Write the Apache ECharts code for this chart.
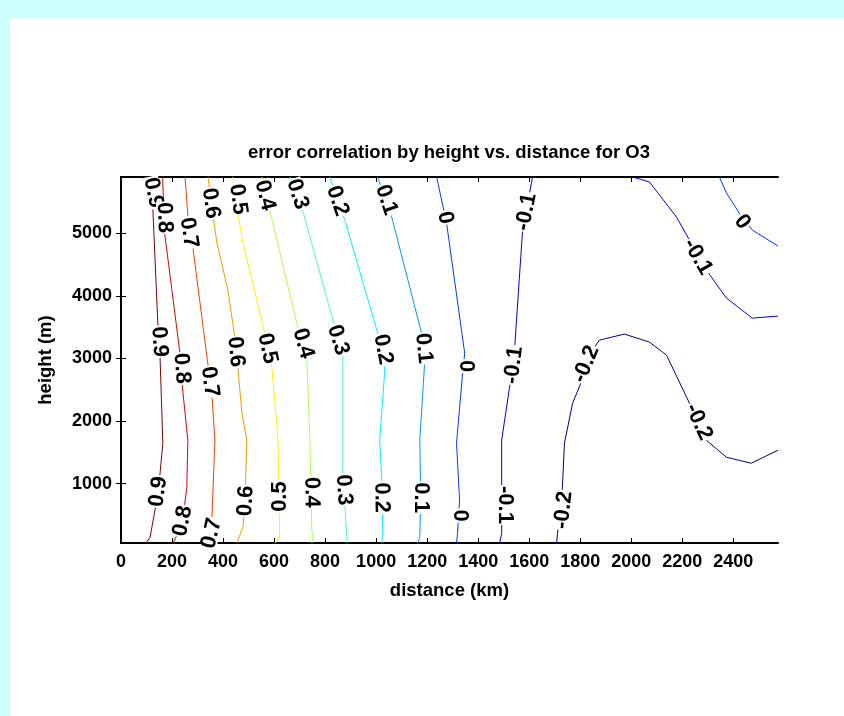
<!DOCTYPE html>
<html><head><meta charset="utf-8">
<script src="https://cdn.jsdelivr.net/npm/echarts@6/dist/echarts.min.js"></script>
<style>html,body{margin:0;padding:0;background:#fff}#c{width:844px;height:716px}</style>
</head><body><div id="c"></div>
<script>
// ---- data (distance km, height m) ----
const xTicks = [0, 200, 400, 600, 800, 1000, 1200, 1400, 1600, 1800, 2000, 2200, 2400];
const yTicks = [1000, 2000, 3000, 4000, 5000];
const xRange = [0, 2575];
const yRange = [50, 5900];

const c09 = [[82,5900],[113,5645],[125,5373],[145,3500],[153,3020],[164,1645],[153,1165],[145,845],[133,573],[114,141],[98,50]];
const c08 = [[163,5900],[172,4970],[231,3085],[239,2605],[262,1693],[258,941],[243,461],[223,205],[204,50]];
const c07 = [[251,5900],[262,5293],[282,4765],[337,3021],[356,2445],[368,1693],[356,413],[337,50]];
const c06 = [[341,5900],[360,5293],[376,4845],[419,4093],[446,3341],[458,2845],[474,2125],[493,1693],[486,733],[478,301],[454,50]];
const c05 = [[438,5900],[466,5133],[478,4845],[556,3533],[591,2861],[615,1741],[622,141],[603,50]];
const c04 = [[552,5900],[583,5373],[689,3565],[728,3021],[740,1741],[748,253],[752,141],[748,50]];
const c03 = [[662,5900],[709,5405],[838,3501],[869,3085],[869,1165],[885,141],[885,50]];
const c02 = [[818,5900],[877,5213],[1006,3405],[1034,2813],[1014,1693],[1022,1053],[1026,205],[1022,50]];
const c01 = [[1006,5900],[1061,5261],[1178,3405],[1190,2925],[1171,1693],[1175,733],[1171,141],[1163,50]];
const c00a = [[1237,5900],[1276,5165],[1347,3085],[1339,2765],[1315,1645],[1327,733],[1319,205],[1315,50]];
const c00b = [[2345,5900],[2373,5645],[2423,5325],[2474,5053],[2575,4797]];
const cm01a = [[1613,5900],[1574,5053],[1543,3181],[1531,2765],[1492,1693],[1492,941],[1492,205],[1484,50]];
const cm01b = [[2004,5900],[2071,5821],[2177,5261],[2228,4893],[2294,4413],[2373,3965],[2474,3645],[2575,3677]];
const cm02 = [[1707,50],[1711,205],[1730,941],[1738,1645],[1770,2285],[1828,2861],[1856,3181],[1875,3293],[1973,3389],[2071,3261],[2138,3053],[2228,2285],[2294,1693],[2373,1421],[2470,1325],[2575,1533]];

const lineLevels = ['0.9','0.8','0.7','0.6','0.5','0.4','0.3','0.2','0.1','0','0','-0.1','-0.1','-0.2'];
const lineData = [c09, c08, c07, c06, c05, c04, c03, c02, c01, c00a, c00b, cm01a, cm01b, cm02];

// contour labels: text and location (km, m)
const labelText = ['0.9','0.8','0.7','0.6','0.5','0.4','0.3','0.2','0.1','0','-0.1','0','-0.1',
                   '0.9','0.8','0.7','0.6','0.5','0.4','0.3','0.2','0.1','0','-0.1','-0.2','-0.2',
                   '0.9','0.8','0.7','0.6','0.5','0.4','0.3','0.2','0.1','0','-0.1','-0.2'];
const labelPos = [[127,5650],[170,5250],[266,5010],[352,5480],[459,5544],[564,5608],[692,5624],[848,5517],[1040,5533],[1271,5250],[1588,5341],[2435,5181],[2260,4626],
                  [150,3266],[238,2840],[348,2626],[450,3106],[574,3160],[714,3240],[851,3293],[1027,3144],[1186,3160],[1351,2877],[1539,2893],[1823,2909],[2264,1986],
                  [146,872],[242,402],[355,205],[489,722],[623,792],[747,861],[873,898],[1021,776],[1177,776],[1330,488],[1507,658],[1734,578]];
const labelAngle = [-78,-88,-81,-82,-82,-76,-72,-71,-71,-78,79,-53,-60,
                    -86,-86,-82,-84,-78,-74,-73,-79,-84,-90,83,67,-65,
                    82,79,77,87,90,-89,-86,-89,-90,-90,-90,84];

// jet colours per level
const levelColor = {'0.9':'#800000','0.8':'#dc0000','0.7':'#ff3a00','0.6':'#ff9700','0.5':'#fff300','0.4':'#aeff51',
                    '0.3':'#51ffae','0.2':'#00f3ff','0.1':'#0097ff','0':'#003aff','-0.1':'#0000dc','-0.2':'#000080'};

const FONT = '"Liberation Sans", Arial, Helvetica, sans-serif';
const chart = echarts.init(document.getElementById('c'));

const series = lineData.map((pts, i) => ({
  type: 'line', data: pts, symbol: 'none', showSymbol: false, silent: true, z: 2,
  lineStyle: { color: levelColor[lineLevels[i]], width: 1 },
  itemStyle: { color: levelColor[lineLevels[i]] }
}));
series.push({
  type: 'scatter', z: 5, symbolSize: 1, silent: true,
  itemStyle: { color: '#fff', opacity: 0 },
  label: { show: true, position: 'inside', formatter: '{b}', color: '#000', opacity: 1, fontSize: 22, fontWeight: 'bold',
           fontFamily: FONT, backgroundColor: '#fff', padding: [0, 1], lineHeight: 16,
           textBorderWidth: 0, textBorderColor: 'transparent' },
  data: labelText.map((t, i) => ({ name: t, value: labelPos[i], label: { rotate: labelAngle[i] } }))
});

const tickStyle = { inside: true, length: 5, lineStyle: { color: '#000', width: 1 } };
const lineStyleAx = { show: true, lineStyle: { color: '#000', width: 2 } };
const labStyle = { color: '#000', fontSize: 18, fontWeight: 'bold', fontFamily: FONT, formatter: v => String(v) };

chart.setOption({
  animation: false,
  backgroundColor: '#ccffff',
  graphic: [
    { type: 'rect', left: 10, top: 18, shape: { width: 834, height: 698 }, style: { fill: '#fff' }, z: -100, silent: true },
    { type: 'text', x: 449, y: 153, style: { text: 'error correlation by height vs. distance for O3', fill: '#000',
      font: 'bold 18.5px ' + FONT, textAlign: 'center', textVerticalAlign: 'middle' }, z: 10, silent: true }
  ],
  grid: { left: 121, right: 66, top: 177, bottom: 173, containLabel: false },
  xAxis: [
    { type: 'value', min: xRange[0], max: xRange[1], position: 'bottom',
      axisLine: lineStyleAx, splitLine: { show: false },
      axisTick: Object.assign({ customValues: xTicks }, tickStyle),
      axisLabel: Object.assign({ customValues: xTicks, margin: 10 }, labStyle),
      name: 'distance (km)', nameLocation: 'middle', nameGap: 38,
      nameTextStyle: { color: '#000', fontSize: 18.5, fontWeight: 'bold', fontFamily: FONT } },
    { type: 'value', min: xRange[0], max: xRange[1], position: 'top',
      axisLine: lineStyleAx, splitLine: { show: false },
      axisTick: Object.assign({ customValues: xTicks }, tickStyle),
      axisLabel: { show: false } }
  ],
  yAxis: [
    { type: 'value', min: yRange[0], max: yRange[1], position: 'left',
      axisLine: lineStyleAx, splitLine: { show: false },
      axisTick: Object.assign({ customValues: yTicks }, tickStyle),
      axisLabel: Object.assign({ customValues: yTicks, margin: 9 }, labStyle),
      name: 'height (m)', nameLocation: 'middle', nameGap: 66,
      nameTextStyle: { color: '#000', fontSize: 18.5, fontWeight: 'bold', fontFamily: FONT } },
    { type: 'value', min: yRange[0], max: yRange[1], position: 'right',
      axisLine: lineStyleAx, splitLine: { show: false },
      axisTick: Object.assign({ customValues: yTicks }, tickStyle),
      axisLabel: { show: false } }
  ],
  series: series
});
</script></body></html>
